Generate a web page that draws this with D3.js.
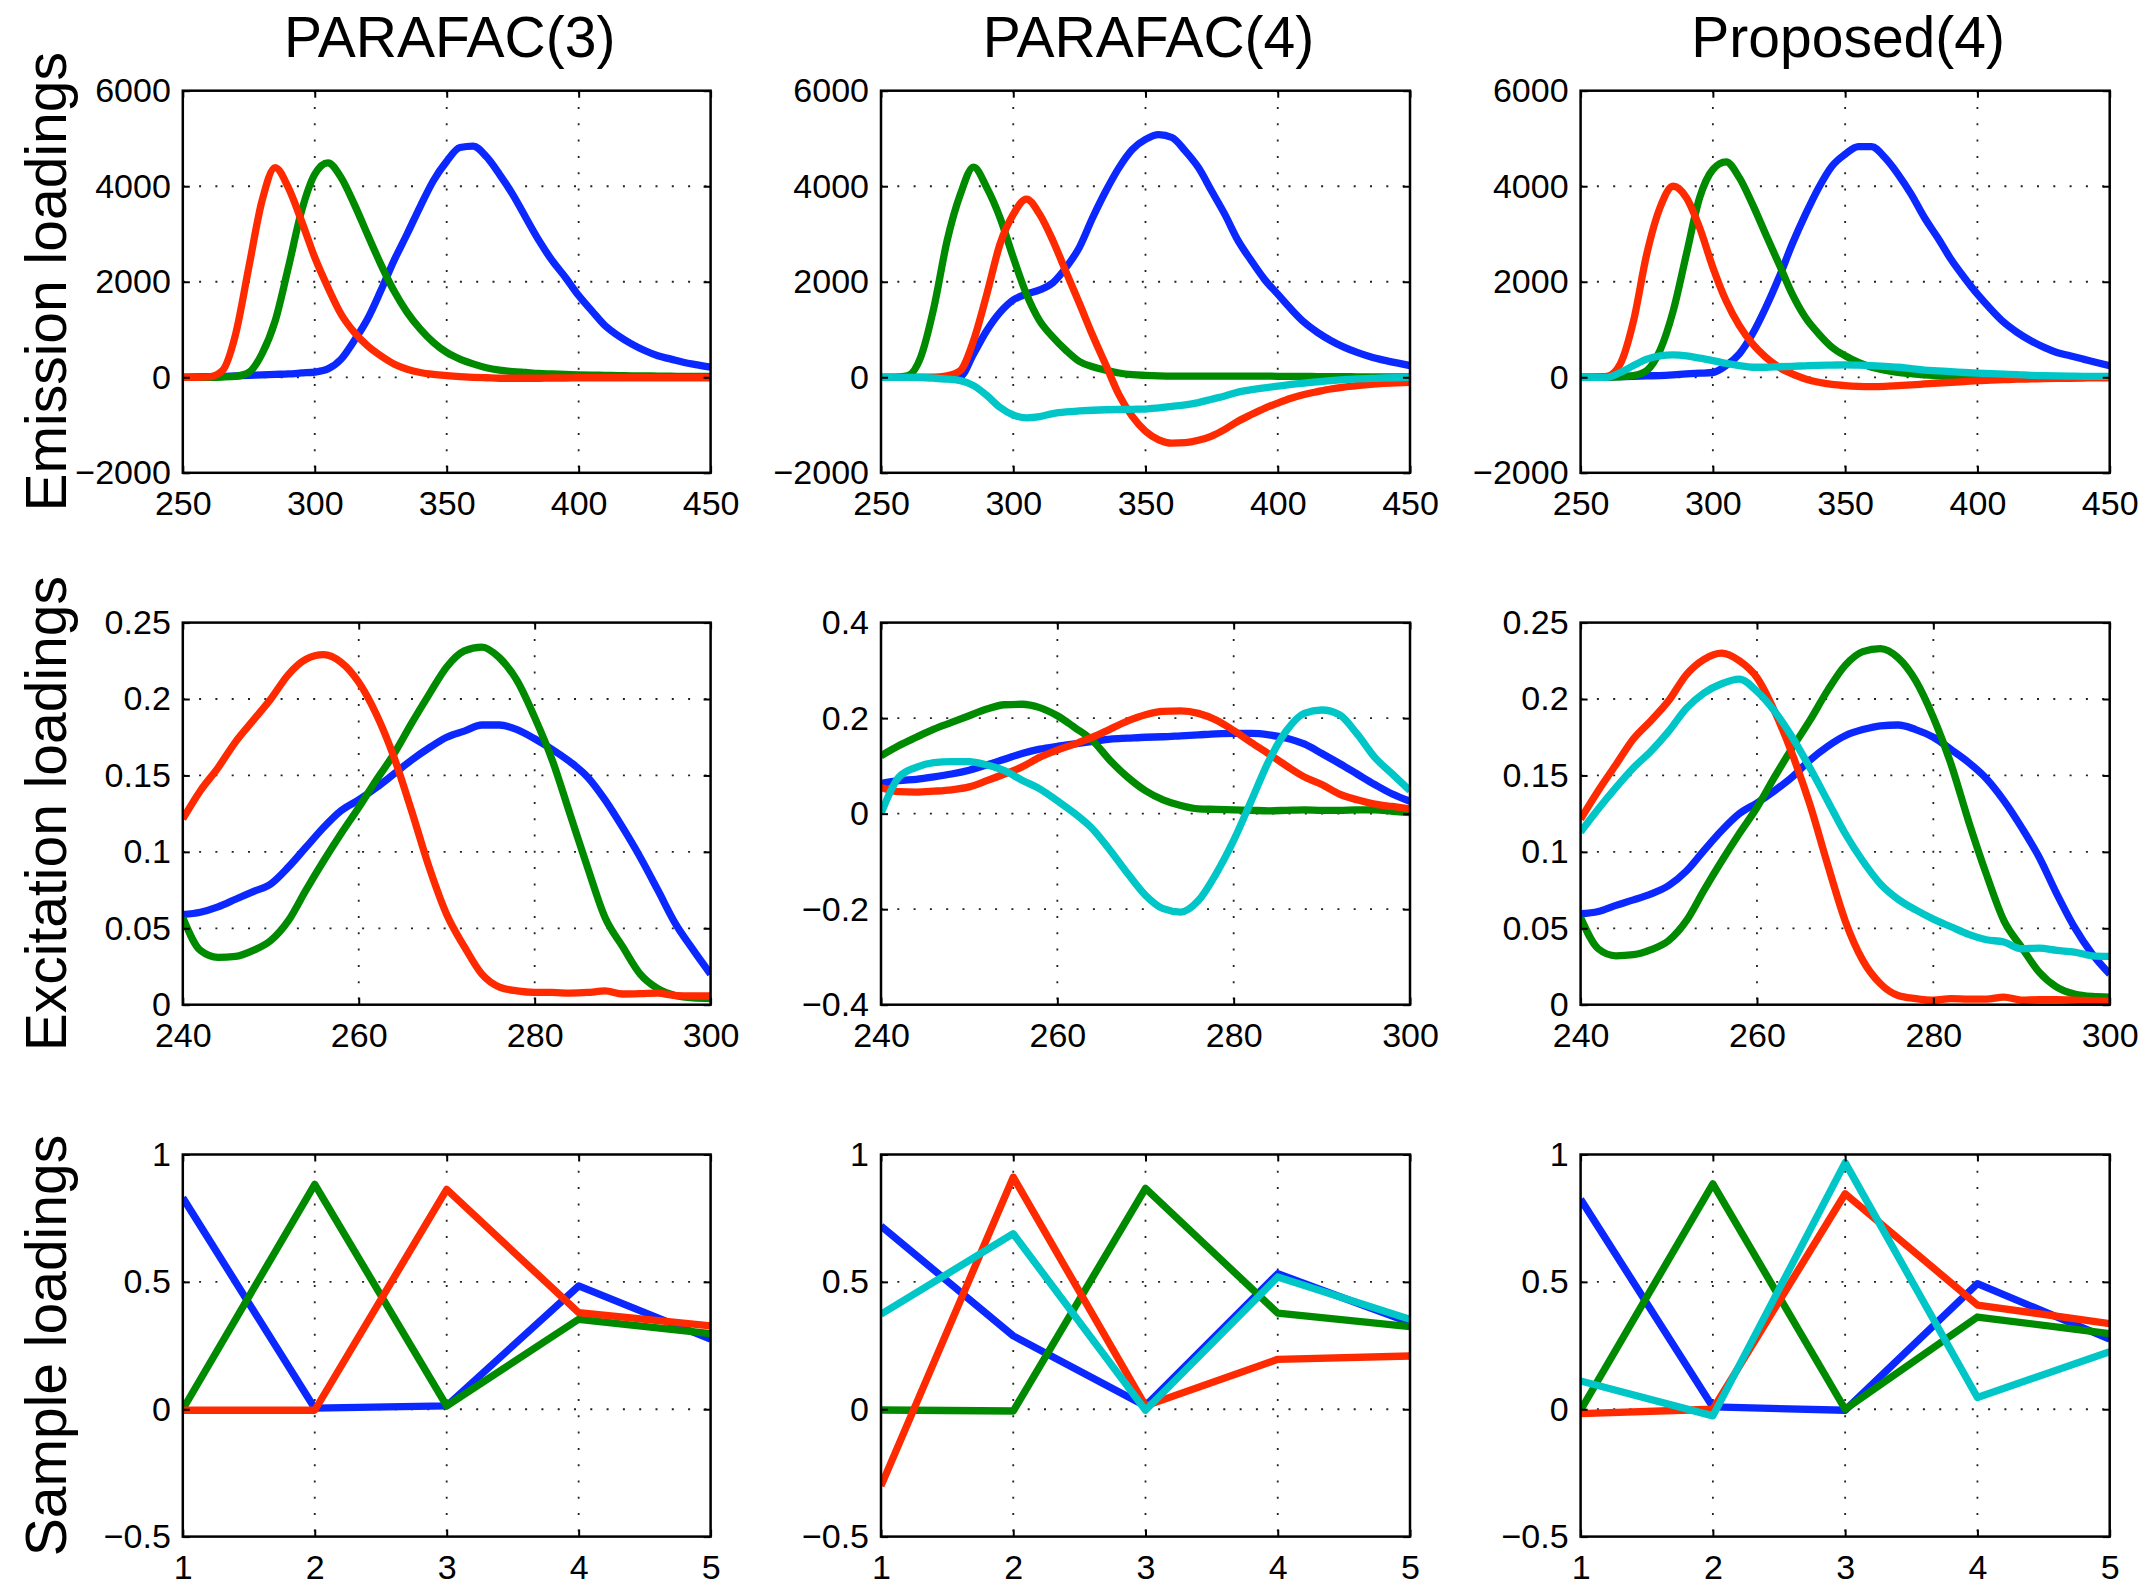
<!DOCTYPE html>
<html>
<head>
<meta charset="utf-8">
<script src="https://cdn.jsdelivr.net/npm/d3@7"></script>
<style>
  html, body { margin: 0; padding: 0; background: #fff; }
  svg { display: block; }
  text { font-family: "Liberation Sans", Arial, Helvetica, sans-serif; fill: #000; }
</style>
</head>
<body>
<svg id="fig" width="2155" height="1584"></svg>
<script>
// ---- column titles and row labels ----
const columnTitles = ["PARAFAC(3)", "PARAFAC(4)", "Proposed(4)"];
const rowLabels = ["Emission loadings", "Excitation loadings", "Sample loadings"];

// ---- x grids ----
const emissionWavelengths = d3.range(250, 451, 5);   // nm
const excitationWavelengths = d3.range(240, 301, 2); // nm
const sampleIndex = [1, 2, 3, 4, 5];

// ---- emission loadings ----
const emP3Blue = [0,10,15,20,30,40,50,60,70,90,110,175,380,770,1220,1810,2440,3000,3580,4120,4520,4810,4840,4620,4250,3830,3340,2860,2440,2090,1710,1390,1080,870,700,560,450,380,310,260,210];
const emP3Green = [0,0,0,5,20,100,490,1180,2300,3480,4250,4490,4180,3620,2990,2370,1810,1360,1010,730,520,380,280,200,150,120,100,80,70,60,50,45,40,35,30,28,25,22,20,20,20];
const emP3Red = [0,0,10,140,900,2300,3690,4390,3970,3270,2510,1880,1320,940,660,450,280,170,100,60,35,15,0,-10,-20,-20,-20,-20,-15,-15,-10,-10,-10,-10,-10,-10,-10,-10,-10,-10,-10];

const emP4Blue = [0,0,0,0,0,0,20,490,980,1360,1620,1740,1830,1980,2300,2720,3340,3900,4390,4770,4980,5080,5020,4740,4390,3900,3410,2860,2440,2050,1740,1430,1150,940,770,630,520,430,360,300,245];
const emP4Green = [0,0,30,420,1460,2860,3830,4400,3970,3340,2510,1740,1180,840,560,330,220,150,90,55,40,30,25,25,25,25,25,25,25,25,20,20,20,15,15,15,10,10,10,10,10];
const emP4Red = [0,0,0,0,0,30,140,770,1740,2790,3410,3730,3410,2860,2200,1550,880,260,-370,-820,-1130,-1310,-1380,-1370,-1320,-1230,-1090,-920,-780,-650,-540,-440,-360,-300,-245,-205,-175,-150,-130,-115,-105];
const emP4Cyan = [0,0,0,-5,-20,-40,-70,-175,-380,-630,-790,-850,-825,-760,-725,-705,-690,-680,-675,-670,-665,-640,-610,-580,-530,-460,-390,-310,-260,-220,-185,-150,-120,-95,-70,-50,-35,-25,-15,-10,-5];

const emPrBlue = [0,5,10,15,20,30,35,50,70,85,100,245,490,910,1460,2090,2790,3410,3970,4420,4670,4830,4830,4600,4250,3830,3340,2920,2470,2090,1740,1430,1150,940,770,630,520,450,380,310,245];
const emPrGreen = [0,0,0,10,35,140,560,1390,2580,3760,4350,4510,4180,3620,2990,2370,1740,1250,910,630,450,310,210,150,100,75,50,40,30,25,20,15,15,12,12,10,10,10,10,10,10];
const emPrRed = [0,0,20,280,1180,2580,3550,4000,3760,3130,2300,1600,1080,700,420,210,70,-35,-105,-150,-175,-190,-195,-190,-175,-160,-140,-120,-105,-90,-70,-60,-50,-40,-35,-30,-25,-20,-15,-10,-10];
const emPrCyan = [0,0,0,100,245,380,450,470,450,400,350,290,245,210,210,220,230,240,250,255,260,255,245,230,210,180,150,135,120,100,85,75,65,55,40,35,30,25,20,20,20];

// ---- excitation loadings ----
const exP3Blue = [0.059,0.0605,0.064,0.069,0.074,0.079,0.090,0.103,0.116,0.127,0.134,0.142,0.151,0.160,0.168,0.175,0.179,0.183,0.183,0.180,0.174,0.167,0.159,0.149,0.134,0.116,0.0965,0.075,0.053,0.036,0.020];
const exP3Green = [0.057,0.0355,0.031,0.0316,0.0355,0.042,0.055,0.075,0.094,0.112,0.129,0.147,0.164,0.184,0.203,0.221,0.2315,0.234,0.227,0.212,0.188,0.160,0.125,0.090,0.057,0.038,0.020,0.0105,0.006,0.0044,0.004];
const exP3Red = [0.1215,0.140,0.155,0.172,0.186,0.200,0.216,0.226,0.229,0.224,0.211,0.190,0.162,0.127,0.090,0.059,0.038,0.020,0.0115,0.009,0.008,0.008,0.0076,0.008,0.009,0.007,0.0072,0.0076,0.006,0.0057,0.0057];

const exP4Blue = [0.063,0.069,0.072,0.077,0.083,0.091,0.102,0.114,0.126,0.135,0.141,0.146,0.151,0.156,0.158,0.160,0.161,0.163,0.165,0.167,0.168,0.168,0.165,0.158,0.146,0.126,0.105,0.083,0.061,0.041,0.026];
const exP4Green = [0.121,0.142,0.160,0.177,0.191,0.205,0.219,0.228,0.229,0.222,0.205,0.180,0.153,0.111,0.076,0.048,0.029,0.017,0.010,0.009,0.008,0.007,0.006,0.007,0.008,0.007,0.007,0.008,0.008,0.005,0.002];
const exP4Red = [0.055,0.046,0.045,0.047,0.050,0.056,0.069,0.083,0.098,0.118,0.133,0.146,0.160,0.177,0.194,0.207,0.214,0.215,0.210,0.196,0.174,0.149,0.125,0.100,0.077,0.061,0.041,0.029,0.020,0.015,0.010];
const exP4Cyan = [0.0,0.076,0.097,0.107,0.109,0.109,0.102,0.090,0.070,0.052,0.027,0.0,-0.032,-0.077,-0.126,-0.171,-0.199,-0.206,-0.182,-0.126,-0.056,0.027,0.111,0.174,0.210,0.217,0.207,0.167,0.118,0.083,0.048];

const exPrBlue = [0.0595,0.061,0.065,0.0686,0.0725,0.078,0.0875,0.101,0.114,0.125,0.132,0.140,0.149,0.160,0.169,0.176,0.180,0.1825,0.183,0.180,0.175,0.167,0.1585,0.148,0.1335,0.116,0.0965,0.0725,0.0507,0.0333,0.020];
const exPrGreen = [0.057,0.0366,0.032,0.0327,0.036,0.042,0.055,0.075,0.094,0.112,0.129,0.149,0.168,0.186,0.2055,0.222,0.231,0.233,0.227,0.212,0.188,0.1575,0.120,0.0856,0.055,0.0377,0.0213,0.0115,0.007,0.0054,0.005];
const exPrRed = [0.1215,0.140,0.157,0.174,0.186,0.199,0.216,0.226,0.230,0.225,0.214,0.192,0.164,0.131,0.092,0.055,0.029,0.0137,0.006,0.004,0.003,0.004,0.0037,0.0037,0.005,0.003,0.0033,0.0033,0.003,0.0025,0.0024];
const exPrCyan = [0.113,0.128,0.142,0.155,0.166,0.179,0.194,0.204,0.210,0.213,0.205,0.192,0.175,0.155,0.1335,0.112,0.094,0.079,0.069,0.062,0.056,0.051,0.046,0.0425,0.041,0.0366,0.037,0.0355,0.0344,0.032,0.0316];

// ---- sample loadings ----
const saP3Blue = [0.83, 0.004, 0.013, 0.484, 0.275];
const saP3Green = [0.0, 0.883, 0.013, 0.353, 0.297];
const saP3Red = [-0.004, -0.004, 0.863, 0.379, 0.327];

const saP4Blue = [0.719, 0.288, 0.013, 0.532, 0.34];
const saP4Green = [-0.003, -0.007, 0.867, 0.377, 0.324];
const saP4Red = [-0.301, 0.911, 0.013, 0.196, 0.209];
const saP4Cyan = [0.373, 0.689, -0.004, 0.519, 0.353];

const saPrBlue = [0.824, 0.009, -0.004, 0.493, 0.275];
const saPrGreen = [-0.004, 0.885, 0.0, 0.362, 0.297];
const saPrRed = [-0.017, 0.0, 0.846, 0.409, 0.336];
const saPrCyan = [0.111, -0.026, 0.968, 0.046, 0.226];

// ---- tick values and labels ----
const emissionXTicks = [250, 300, 350, 400, 450];
const excitationXTicks = [240, 260, 280, 300];
const sampleXTicks = [1, 2, 3, 4, 5];
const emissionYTicks = [-2000, 0, 2000, 4000, 6000];
const emissionYLabels = ["\u22122000", "0", "2000", "4000", "6000"];
const excitationYTicks = [0, 0.05, 0.1, 0.15, 0.2, 0.25];
const excitationYLabels = ["0", "0.05", "0.1", "0.15", "0.2", "0.25"];
const excitationWideYTicks = [-0.4, -0.2, 0, 0.2, 0.4];
const excitationWideYLabels = ["\u22120.4", "\u22120.2", "0", "0.2", "0.4"];
const sampleYTicks = [-0.5, 0, 0.5, 1];
const sampleYLabels = ["\u22120.5", "0", "0.5", "1"];

// ---- line colours ----
const colBlue = "#0a28ff";
const colGreen = "#008a00";
const colRed = "#ff2a00";
const colCyan = "#00c6c8";

// ---- layout ----
const colX = [[182.8, 710.6], [881, 1410], [1580.6, 2109.7]];
const rowY = [[90.7, 472.8], [622.6, 1004.7], [1154.5, 1536.6]];
const tickFont = 34, titleFont = 57, labelFont = 57;

function series(xs, ys, color) { return { pts: xs.map((x, i) => [x, ys[i]]), color }; }

const rowSpecs = [
  { xDomain: [250, 450], xTicks: emissionXTicks, curve: d3.curveMonotoneX },
  { xDomain: [240, 300], xTicks: excitationXTicks, curve: d3.curveMonotoneX },
  { xDomain: [1, 5], xTicks: sampleXTicks, curve: d3.curveLinear }
];

const panels = [
  // emission row
  { r: 0, c: 0, yDomain: [-2000, 6000], yTicks: emissionYTicks, yLabels: emissionYLabels,
    lines: [series(emissionWavelengths, emP3Blue, colBlue), series(emissionWavelengths, emP3Green, colGreen), series(emissionWavelengths, emP3Red, colRed)] },
  { r: 0, c: 1, yDomain: [-2000, 6000], yTicks: emissionYTicks, yLabels: emissionYLabels,
    lines: [series(emissionWavelengths, emP4Blue, colBlue), series(emissionWavelengths, emP4Green, colGreen), series(emissionWavelengths, emP4Red, colRed), series(emissionWavelengths, emP4Cyan, colCyan)] },
  { r: 0, c: 2, yDomain: [-2000, 6000], yTicks: emissionYTicks, yLabels: emissionYLabels,
    lines: [series(emissionWavelengths, emPrBlue, colBlue), series(emissionWavelengths, emPrGreen, colGreen), series(emissionWavelengths, emPrRed, colRed), series(emissionWavelengths, emPrCyan, colCyan)] },
  // excitation row
  { r: 1, c: 0, yDomain: [0, 0.25], yTicks: excitationYTicks, yLabels: excitationYLabels,
    lines: [series(excitationWavelengths, exP3Blue, colBlue), series(excitationWavelengths, exP3Green, colGreen), series(excitationWavelengths, exP3Red, colRed)] },
  { r: 1, c: 1, yDomain: [-0.4, 0.4], yTicks: excitationWideYTicks, yLabels: excitationWideYLabels,
    lines: [series(excitationWavelengths, exP4Blue, colBlue), series(excitationWavelengths, exP4Green, colGreen), series(excitationWavelengths, exP4Red, colRed), series(excitationWavelengths, exP4Cyan, colCyan)] },
  { r: 1, c: 2, yDomain: [0, 0.25], yTicks: excitationYTicks, yLabels: excitationYLabels,
    lines: [series(excitationWavelengths, exPrBlue, colBlue), series(excitationWavelengths, exPrGreen, colGreen), series(excitationWavelengths, exPrRed, colRed), series(excitationWavelengths, exPrCyan, colCyan)] },
  // sample row
  { r: 2, c: 0, yDomain: [-0.5, 1], yTicks: sampleYTicks, yLabels: sampleYLabels,
    lines: [series(sampleIndex, saP3Blue, colBlue), series(sampleIndex, saP3Green, colGreen), series(sampleIndex, saP3Red, colRed)] },
  { r: 2, c: 1, yDomain: [-0.5, 1], yTicks: sampleYTicks, yLabels: sampleYLabels,
    lines: [series(sampleIndex, saP4Blue, colBlue), series(sampleIndex, saP4Green, colGreen), series(sampleIndex, saP4Red, colRed), series(sampleIndex, saP4Cyan, colCyan)] },
  { r: 2, c: 2, yDomain: [-0.5, 1], yTicks: sampleYTicks, yLabels: sampleYLabels,
    lines: [series(sampleIndex, saPrBlue, colBlue), series(sampleIndex, saPrGreen, colGreen), series(sampleIndex, saPrRed, colRed), series(sampleIndex, saPrCyan, colCyan)] }
];

const svg = d3.select("#fig");
svg.append("rect").attr("width", 2155).attr("height", 1584).attr("fill", "#fff");
const defs = svg.append("defs");

panels.forEach((p, idx) => {
  const spec = rowSpecs[p.r];
  const [x0, x1] = colX[p.c];
  const [y0, y1] = rowY[p.r];
  const x = d3.scaleLinear().domain(spec.xDomain).range([x0, x1]);
  const y = d3.scaleLinear().domain(p.yDomain).range([y1, y0]);
  const g = svg.append("g");

  defs.append("clipPath").attr("id", "clip" + idx)
    .append("rect").attr("x", x0).attr("y", y0).attr("width", x1 - x0).attr("height", y1 - y0);

  // dotted grid
  const grid = g.append("g").attr("stroke", "#222").attr("stroke-width", 1.8)
    .attr("stroke-dasharray", "2,14.3");
  grid.selectAll(".gx").data(spec.xTicks.filter(v => v !== spec.xDomain[0] && v !== spec.xDomain[1]))
    .join("line").attr("x1", d => x(d)).attr("x2", d => x(d)).attr("y1", y0).attr("y2", y1);
  grid.selectAll(".gy").data(p.yTicks.filter(v => v !== p.yDomain[0] && v !== p.yDomain[1]))
    .join("line").attr("y1", d => y(d)).attr("y2", d => y(d)).attr("x1", x0).attr("x2", x1);

  // curves
  const line = d3.line().x(d => x(d[0])).y(d => y(d[1])).curve(spec.curve);
  g.append("g").attr("clip-path", `url(#clip${idx})`)
    .selectAll("path").data(p.lines).join("path")
    .attr("d", d => line(d.pts))
    .attr("fill", "none").attr("stroke", d => d.color)
    .attr("stroke-width", 7.3).attr("stroke-linejoin", "round").attr("stroke-linecap", "butt");

  // axes with inward ticks
  const labelMap = new Map(p.yTicks.map((v, i) => [v, p.yLabels[i]]));
  const axL = d3.axisLeft(y).tickValues(p.yTicks).tickFormat(v => labelMap.get(v))
    .tickSizeInner(-7).tickSizeOuter(0).tickPadding(12);
  const axR = d3.axisRight(y).tickValues(p.yTicks).tickFormat("")
    .tickSizeInner(-7).tickSizeOuter(0);
  const axB = d3.axisBottom(x).tickValues(spec.xTicks).tickFormat(d3.format("d"))
    .tickSizeInner(-7).tickSizeOuter(0).tickPadding(18);
  const axT = d3.axisTop(x).tickValues(spec.xTicks).tickFormat("")
    .tickSizeInner(-7).tickSizeOuter(0);

  const styleAxis = sel => {
    sel.select(".domain").remove();
    sel.selectAll(".tick line").attr("stroke", "#000").attr("stroke-width", 2);
    sel.selectAll(".tick text").attr("font-size", tickFont)
      .attr("font-family", "'Liberation Sans', Arial, Helvetica, sans-serif").attr("fill", "#000");
  };
  g.append("g").attr("transform", `translate(${x0},0)`).call(axL).call(styleAxis);
  g.append("g").attr("transform", `translate(${x1},0)`).call(axR).call(styleAxis);
  g.append("g").attr("transform", `translate(0,${y1})`).call(axB).call(styleAxis);
  g.append("g").attr("transform", `translate(0,${y0})`).call(axT).call(styleAxis);

  // axes box
  g.append("rect").attr("x", x0).attr("y", y0).attr("width", x1 - x0).attr("height", y1 - y0)
    .attr("fill", "none").attr("stroke", "#000").attr("stroke-width", 2.5);
});

// column titles
columnTitles.forEach((t, c) => {
  svg.append("text").attr("x", (colX[c][0] + colX[c][1]) / 2 + 3).attr("y", 57)
    .attr("text-anchor", "middle").attr("font-size", titleFont).text(t);
});

// row labels
rowLabels.forEach((t, r) => {
  const cy = (rowY[r][0] + rowY[r][1]) / 2;
  svg.append("text").attr("transform", `translate(66,${cy}) rotate(-90)`)
    .attr("text-anchor", "middle").attr("font-size", labelFont).text(t);
});
</script>
</body>
</html>
